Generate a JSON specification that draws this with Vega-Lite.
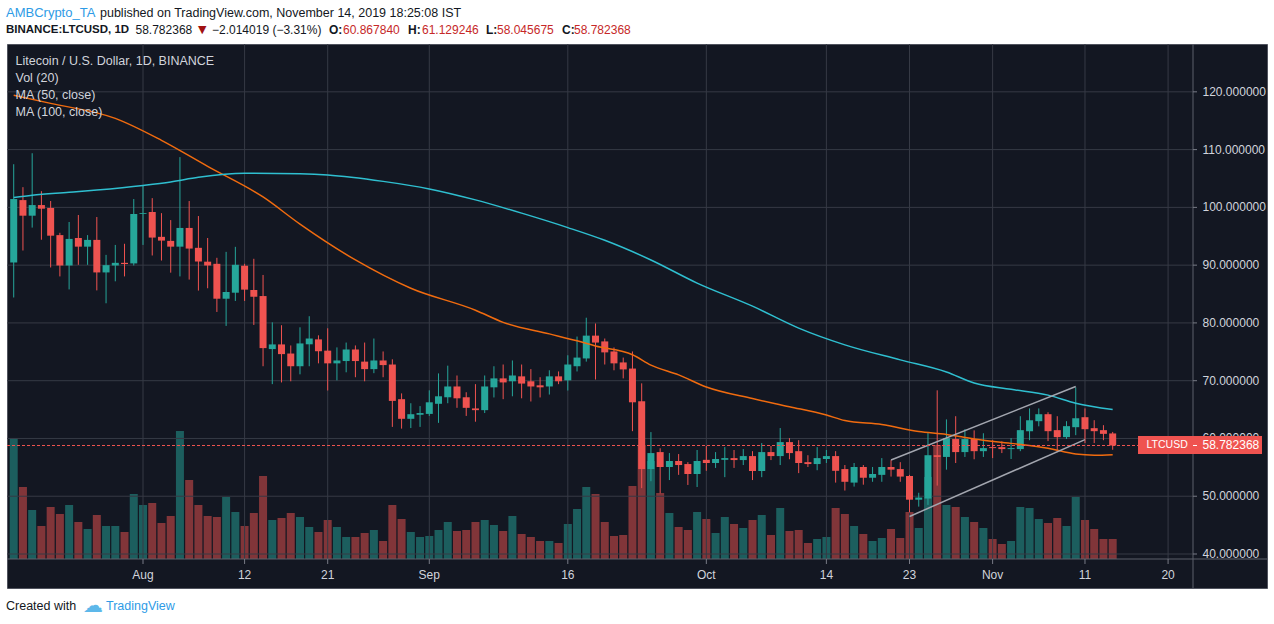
{
"$schema": "https://vega.github.io/schema/vega-lite/v6.json",
"width": 1260, "height": 544,
"autosize": {"type": "none"},
"padding": {"left": 7, "top": 44, "right": 7, "bottom": 36},
"background": "#ffffff",
"config": {"view": {"fill": "#131722", "stroke": "#50535e", "strokeWidth": 1}},
"datasets": {
"one": [{"k": 1}],
"ticks": [{"d":"2019-08-01","label":"Aug"},{"d":"2019-08-12","label":"12"},{"d":"2019-08-21","label":"21"},{"d":"2019-09-01","label":"Sep"},{"d":"2019-09-16","label":"16"},{"d":"2019-10-01","label":"Oct"},{"d":"2019-10-14","label":"14"},{"d":"2019-10-23","label":"23"},{"d":"2019-11-01","label":"Nov"},{"d":"2019-11-11","label":"11"},{"d":"2019-11-20","label":"20"}],
"levels": [{"p":40},{"p":50},{"p":60},{"p":70},{"p":80},{"p":90},{"p":100},{"p":110},{"p":120}],
"candles": [
{"date":"2019-07-18","open":90.46,"high":107.47,"low":84.4,"close":101.44,"volume":1210000},
{"date":"2019-07-19","open":101.26,"high":103.5,"low":92.53,"close":98.56,"volume":720000},
{"date":"2019-07-20","open":98.56,"high":109.37,"low":96.5,"close":100.4,"volume":490000},
{"date":"2019-07-21","open":100.4,"high":102.8,"low":94.4,"close":99.77,"volume":330000},
{"date":"2019-07-22","open":99.9,"high":101.1,"low":89.6,"close":95.1,"volume":520000},
{"date":"2019-07-23","open":95.2,"high":95.6,"low":88.05,"close":89.94,"volume":450000},
{"date":"2019-07-24","open":89.94,"high":97.47,"low":85.8,"close":94.54,"volume":540000},
{"date":"2019-07-25","open":94.7,"high":98.68,"low":90.06,"close":93.2,"volume":370000},
{"date":"2019-07-26","open":93.2,"high":95.2,"low":90.06,"close":94.37,"volume":300000},
{"date":"2019-07-27","open":94.37,"high":98.33,"low":85.63,"close":88.74,"volume":440000},
{"date":"2019-07-28","open":88.74,"high":91.78,"low":83.4,"close":90.0,"volume":330000},
{"date":"2019-07-29","open":89.94,"high":93.5,"low":87.2,"close":90.4,"volume":330000},
{"date":"2019-07-30","open":90.4,"high":93.7,"low":88.05,"close":90.2,"volume":270000},
{"date":"2019-07-31","open":90.3,"high":101.44,"low":89.94,"close":98.85,"volume":650000},
{"date":"2019-08-01","open":98.85,"high":103.7,"low":93.5,"close":99.0,"volume":540000},
{"date":"2019-08-02","open":99.2,"high":101.6,"low":91.67,"close":94.77,"volume":560000},
{"date":"2019-08-03","open":94.9,"high":99.0,"low":90.8,"close":94.25,"volume":360000},
{"date":"2019-08-04","open":94.2,"high":97.8,"low":88.7,"close":93.2,"volume":430000},
{"date":"2019-08-05","open":93.2,"high":108.7,"low":88.05,"close":96.44,"volume":1280000},
{"date":"2019-08-06","open":96.44,"high":101.1,"low":87.5,"close":92.87,"volume":790000},
{"date":"2019-08-07","open":93.0,"high":98.5,"low":85.6,"close":90.63,"volume":540000},
{"date":"2019-08-08","open":90.6,"high":94.7,"low":86.0,"close":89.94,"volume":430000},
{"date":"2019-08-09","open":90.23,"high":91.27,"low":81.9,"close":84.19,"volume":420000},
{"date":"2019-08-10","open":84.19,"high":92.3,"low":79.48,"close":85.35,"volume":620000},
{"date":"2019-08-11","open":85.23,"high":93.17,"low":83.8,"close":90.06,"volume":470000},
{"date":"2019-08-12","open":89.9,"high":90.23,"low":83.8,"close":85.76,"volume":330000},
{"date":"2019-08-13","open":85.7,"high":91.1,"low":79.65,"close":84.53,"volume":460000},
{"date":"2019-08-14","open":84.65,"high":88.3,"low":72.5,"close":75.64,"volume":830000},
{"date":"2019-08-15","open":75.47,"high":80.1,"low":69.4,"close":76.28,"volume":390000},
{"date":"2019-08-16","open":76.28,"high":79.6,"low":69.7,"close":74.6,"volume":410000},
{"date":"2019-08-17","open":74.7,"high":76.1,"low":69.9,"close":72.5,"volume":460000},
{"date":"2019-08-18","open":72.5,"high":79.24,"low":71.1,"close":76.45,"volume":420000},
{"date":"2019-08-19","open":76.3,"high":81.16,"low":72.5,"close":77.3,"volume":320000},
{"date":"2019-08-20","open":77.15,"high":77.85,"low":73.0,"close":75.1,"volume":270000},
{"date":"2019-08-21","open":75.2,"high":79.07,"low":68.3,"close":73.0,"volume":390000},
{"date":"2019-08-22","open":73.0,"high":75.76,"low":70.06,"close":73.5,"volume":320000},
{"date":"2019-08-23","open":73.4,"high":76.6,"low":71.45,"close":75.4,"volume":220000},
{"date":"2019-08-24","open":75.4,"high":76.1,"low":70.6,"close":73.4,"volume":220000},
{"date":"2019-08-25","open":73.3,"high":76.6,"low":69.9,"close":72.0,"volume":260000},
{"date":"2019-08-26","open":72.0,"high":77.3,"low":71.3,"close":73.5,"volume":290000},
{"date":"2019-08-27","open":73.5,"high":75.06,"low":70.6,"close":72.7,"volume":180000},
{"date":"2019-08-28","open":72.8,"high":73.7,"low":62.0,"close":66.5,"volume":540000},
{"date":"2019-08-29","open":66.8,"high":67.8,"low":61.7,"close":63.4,"volume":400000},
{"date":"2019-08-30","open":63.4,"high":66.1,"low":61.8,"close":64.2,"volume":270000},
{"date":"2019-08-31","open":64.1,"high":65.6,"low":62.0,"close":64.4,"volume":220000},
{"date":"2019-09-01","open":64.25,"high":68.33,"low":63.9,"close":66.26,"volume":230000},
{"date":"2019-09-02","open":66.0,"high":71.26,"low":62.7,"close":67.3,"volume":290000},
{"date":"2019-09-03","open":67.13,"high":72.6,"low":66.1,"close":69.0,"volume":370000},
{"date":"2019-09-04","open":69.0,"high":70.9,"low":65.3,"close":66.95,"volume":280000},
{"date":"2019-09-05","open":67.13,"high":68.0,"low":63.9,"close":65.3,"volume":290000},
{"date":"2019-09-06","open":65.2,"high":69.4,"low":62.9,"close":64.9,"volume":370000},
{"date":"2019-09-07","open":64.9,"high":70.9,"low":64.4,"close":69.0,"volume":390000},
{"date":"2019-09-08","open":68.85,"high":72.5,"low":67.1,"close":70.4,"volume":340000},
{"date":"2019-09-09","open":70.4,"high":72.8,"low":66.8,"close":69.7,"volume":280000},
{"date":"2019-09-10","open":69.9,"high":73.5,"low":67.3,"close":70.9,"volume":430000},
{"date":"2019-09-11","open":70.75,"high":72.8,"low":66.95,"close":69.5,"volume":250000},
{"date":"2019-09-12","open":69.9,"high":72.0,"low":66.4,"close":69.0,"volume":220000},
{"date":"2019-09-13","open":69.2,"high":70.6,"low":67.1,"close":68.85,"volume":180000},
{"date":"2019-09-14","open":69.0,"high":71.8,"low":67.6,"close":70.75,"volume":180000},
{"date":"2019-09-15","open":70.75,"high":71.6,"low":69.4,"close":69.9,"volume":160000},
{"date":"2019-09-16","open":70.06,"high":74.4,"low":68.3,"close":72.8,"volume":350000},
{"date":"2019-09-17","open":72.5,"high":77.64,"low":71.6,"close":74.0,"volume":500000},
{"date":"2019-09-18","open":73.85,"high":80.9,"low":73.3,"close":77.8,"volume":720000},
{"date":"2019-09-19","open":77.8,"high":79.9,"low":70.2,"close":76.6,"volume":650000},
{"date":"2019-09-20","open":76.8,"high":77.3,"low":72.8,"close":74.9,"volume":370000},
{"date":"2019-09-21","open":75.06,"high":75.75,"low":71.8,"close":73.0,"volume":230000},
{"date":"2019-09-22","open":73.16,"high":74.0,"low":70.4,"close":71.95,"volume":240000},
{"date":"2019-09-23","open":72.1,"high":75.06,"low":61.26,"close":66.26,"volume":730000},
{"date":"2019-09-24","open":66.44,"high":69.54,"low":51.4,"close":54.7,"volume":1140000},
{"date":"2019-09-25","open":54.7,"high":61.1,"low":52.6,"close":57.47,"volume":980000},
{"date":"2019-09-26","open":57.64,"high":58.3,"low":50.5,"close":55.06,"volume":660000},
{"date":"2019-09-27","open":55.06,"high":57.47,"low":52.8,"close":56.1,"volume":460000},
{"date":"2019-09-28","open":56.1,"high":57.3,"low":53.7,"close":55.4,"volume":320000},
{"date":"2019-09-29","open":55.57,"high":55.9,"low":51.95,"close":53.85,"volume":290000},
{"date":"2019-09-30","open":53.85,"high":58.0,"low":51.6,"close":56.1,"volume":470000},
{"date":"2019-10-01","open":56.3,"high":58.7,"low":54.4,"close":55.75,"volume":400000},
{"date":"2019-10-02","open":55.75,"high":57.64,"low":54.9,"close":56.44,"volume":260000},
{"date":"2019-10-03","open":56.3,"high":58.5,"low":53.3,"close":56.6,"volume":420000},
{"date":"2019-10-04","open":56.6,"high":58.0,"low":54.9,"close":56.26,"volume":350000},
{"date":"2019-10-05","open":56.26,"high":58.16,"low":55.4,"close":56.95,"volume":310000},
{"date":"2019-10-06","open":56.95,"high":57.8,"low":52.8,"close":54.37,"volume":390000},
{"date":"2019-10-07","open":54.37,"high":59.2,"low":53.3,"close":57.64,"volume":440000},
{"date":"2019-10-08","open":57.64,"high":58.7,"low":56.26,"close":56.95,"volume":240000},
{"date":"2019-10-09","open":56.95,"high":61.8,"low":55.4,"close":59.37,"volume":510000},
{"date":"2019-10-10","open":59.37,"high":60.06,"low":56.4,"close":57.47,"volume":280000},
{"date":"2019-10-11","open":57.8,"high":59.7,"low":54.0,"close":55.75,"volume":290000},
{"date":"2019-10-12","open":55.9,"high":57.1,"low":55.06,"close":55.57,"volume":160000},
{"date":"2019-10-13","open":55.57,"high":58.5,"low":54.5,"close":56.6,"volume":200000},
{"date":"2019-10-14","open":56.44,"high":58.0,"low":55.75,"close":56.95,"volume":220000},
{"date":"2019-10-15","open":56.95,"high":57.8,"low":52.36,"close":54.4,"volume":510000},
{"date":"2019-10-16","open":54.7,"high":55.4,"low":50.98,"close":52.5,"volume":450000},
{"date":"2019-10-17","open":52.36,"high":55.75,"low":51.67,"close":55.06,"volume":330000},
{"date":"2019-10-18","open":55.06,"high":55.4,"low":52.0,"close":53.2,"volume":250000},
{"date":"2019-10-19","open":53.2,"high":55.06,"low":52.5,"close":53.85,"volume":180000},
{"date":"2019-10-20","open":53.7,"high":56.6,"low":52.5,"close":55.06,"volume":210000},
{"date":"2019-10-21","open":55.06,"high":56.26,"low":53.4,"close":54.6,"volume":300000},
{"date":"2019-10-22","open":54.7,"high":55.9,"low":52.5,"close":53.4,"volume":210000},
{"date":"2019-10-23","open":53.5,"high":53.7,"low":47.2,"close":49.4,"volume":470000},
{"date":"2019-10-24","open":49.4,"high":50.6,"low":48.2,"close":49.77,"volume":310000},
{"date":"2019-10-25","open":49.6,"high":61.1,"low":48.5,"close":57.1,"volume":820000},
{"date":"2019-10-26","open":57.1,"high":68.33,"low":51.84,"close":56.8,"volume":1140000},
{"date":"2019-10-27","open":56.8,"high":63.3,"low":54.6,"close":60.06,"volume":540000},
{"date":"2019-10-28","open":59.9,"high":63.85,"low":55.75,"close":57.64,"volume":520000},
{"date":"2019-10-29","open":57.64,"high":61.6,"low":56.8,"close":59.9,"volume":420000},
{"date":"2019-10-30","open":59.9,"high":61.4,"low":56.4,"close":57.8,"volume":370000},
{"date":"2019-10-31","open":57.8,"high":60.9,"low":56.8,"close":58.33,"volume":310000},
{"date":"2019-11-01","open":58.5,"high":59.7,"low":56.6,"close":58.33,"volume":200000},
{"date":"2019-11-02","open":58.5,"high":59.5,"low":57.47,"close":58.16,"volume":150000},
{"date":"2019-11-03","open":58.16,"high":60.06,"low":56.44,"close":58.33,"volume":180000},
{"date":"2019-11-04","open":58.16,"high":63.85,"low":57.8,"close":61.44,"volume":520000},
{"date":"2019-11-05","open":61.26,"high":65.2,"low":59.7,"close":63.16,"volume":510000},
{"date":"2019-11-06","open":62.99,"high":65.2,"low":62.1,"close":64.2,"volume":400000},
{"date":"2019-11-07","open":64.2,"high":64.54,"low":59.54,"close":61.26,"volume":360000},
{"date":"2019-11-08","open":61.44,"high":63.85,"low":57.64,"close":60.23,"volume":410000},
{"date":"2019-11-09","open":60.23,"high":62.99,"low":59.9,"close":62.13,"volume":330000},
{"date":"2019-11-10","open":61.95,"high":68.85,"low":60.57,"close":63.5,"volume":620000},
{"date":"2019-11-11","open":63.68,"high":65.2,"low":59.2,"close":61.6,"volume":390000},
{"date":"2019-11-12","open":61.78,"high":63.16,"low":59.2,"close":61.26,"volume":300000},
{"date":"2019-11-13","open":61.44,"high":62.3,"low":59.7,"close":60.796387,"volume":200000},
{"date":"2019-11-14","open":60.86784,"high":61.129246,"low":58.045675,"close":58.782368,"volume":200000}
],
"ma50": [
{"date":"2019-07-18","ma":119.4},{"date":"2019-07-22","ma":118.0},{"date":"2019-07-29","ma":115.4},
{"date":"2019-08-03","ma":111.6},{"date":"2019-08-08","ma":107.1},{"date":"2019-08-14","ma":101.8},
{"date":"2019-08-18","ma":97.1},{"date":"2019-08-24","ma":90.9},{"date":"2019-08-30","ma":86.0},
{"date":"2019-09-06","ma":82.2},{"date":"2019-09-09","ma":80.1},{"date":"2019-09-14","ma":78.1},
{"date":"2019-09-17","ma":76.9},{"date":"2019-09-19","ma":76.0},{"date":"2019-09-23","ma":74.5},
{"date":"2019-09-25","ma":72.7},{"date":"2019-09-28","ma":71.0},{"date":"2019-10-01","ma":68.9},
{"date":"2019-10-06","ma":66.9},{"date":"2019-10-10","ma":65.5},{"date":"2019-10-14","ma":64.05},
{"date":"2019-10-16","ma":63.1},{"date":"2019-10-20","ma":62.4},{"date":"2019-10-24","ma":61.2},
{"date":"2019-10-27","ma":60.7},{"date":"2019-10-30","ma":59.9},{"date":"2019-11-03","ma":59.15},
{"date":"2019-11-07","ma":58.3},{"date":"2019-11-10","ma":57.3},{"date":"2019-11-12","ma":57.1},
{"date":"2019-11-14","ma":57.2}
],
"ma100": [
{"date":"2019-07-18","ma":101.7},{"date":"2019-07-20","ma":102.1},{"date":"2019-07-24","ma":102.6},
{"date":"2019-07-27","ma":103.0},{"date":"2019-08-01","ma":103.8},{"date":"2019-08-04","ma":104.4},
{"date":"2019-08-07","ma":105.2},{"date":"2019-08-12","ma":105.9},{"date":"2019-08-18","ma":105.8},
{"date":"2019-08-21","ma":105.6},{"date":"2019-08-27","ma":104.5},{"date":"2019-09-01","ma":103.2},
{"date":"2019-09-06","ma":101.3},{"date":"2019-09-11","ma":99.0},{"date":"2019-09-16","ma":96.5},
{"date":"2019-09-20","ma":94.3},{"date":"2019-09-25","ma":90.9},{"date":"2019-09-30","ma":86.9},
{"date":"2019-10-06","ma":82.9},{"date":"2019-10-11","ma":79.1},{"date":"2019-10-16","ma":76.2},
{"date":"2019-10-22","ma":73.6},{"date":"2019-10-27","ma":71.5},{"date":"2019-10-30","ma":69.6},
{"date":"2019-11-03","ma":68.5},{"date":"2019-11-07","ma":67.5},{"date":"2019-11-10","ma":66.1},
{"date":"2019-11-14","ma":65.0}
]
},
"resolve": {"scale": {"y": "independent"}},
"layer": [
{
"data": {"name": "candles"},
"mark": {"type": "bar", "width": 8},
"encoding": {
"x": {"field": "date", "type": "temporal", "scale": {"type": "utc", "domain": [1563345223168, 1575133420288], "nice": false, "padding": 0}, "axis": null},
"y": {"field": "volume", "type": "quantitative", "scale": {"domain": [-290000, 5150000], "nice": false, "zero": false}, "axis": null},
"y2": {"datum": 0},
"color": {"condition": {"test": "datum.close >= datum.open", "value": "rgba(38,166,154,0.5)"}, "value": "rgba(239,83,80,0.5)"}
}
},
{
"layer": [
{
"data": {"name": "ticks"},
"mark": {"type": "rule", "color": "#363a45", "strokeWidth": 1},
"encoding": {
"x": {"field": "d", "type": "temporal", "axis": null},
"y": {"datum": 39.134, "type": "quantitative", "axis": null},
"y2": {"datum": 128.28}
}
},
{
"data": {"name": "levels"},
"mark": {"type": "rule", "color": "#363a45", "strokeWidth": 1},
"encoding": {
"y": {"field": "p", "type": "quantitative", "scale": {"domain": [34.115, 128.28], "nice": false, "zero": false, "padding": 0}, "axis": null},
"x": {"datum": 1563345223168, "type": "temporal", "axis": null},
"x2": {"datum": 1574441097600}
}
},
{
"data": {"name": "one"},
"mark": {"type": "rule", "color": "#5d606b", "strokeWidth": 1},
"encoding": {"y": {"datum": 39.134, "type": "quantitative", "axis": null}}
},
{
"data": {"name": "one"},
"mark": {"type": "rule", "color": "#5d606b", "strokeWidth": 1},
"encoding": {"x": {"datum": 1574441097600, "type": "temporal", "axis": null}}
},
{
"data": {"name": "ticks"},
"mark": {"type": "rule", "color": "#787b86", "strokeWidth": 1},
"encoding": {
"x": {"field": "d", "type": "temporal", "axis": null},
"y": {"datum": 39.134, "type": "quantitative", "axis": null},
"y2": {"datum": 38.27}
}
},
{
"data": {"name": "ticks"},
"mark": {"type": "text", "align": "center", "baseline": "middle", "font": "Liberation Sans", "fontSize": 12, "color": "#d1d4dc"},
"encoding": {
"x": {"field": "d", "type": "temporal", "axis": null},
"y": {"datum": 36.365, "type": "quantitative", "axis": null},
"text": {"field": "label"}
}
},
{
"data": {"name": "levels"},
"mark": {"type": "rule", "color": "#787b86", "strokeWidth": 1},
"encoding": {
"y": {"field": "p", "type": "quantitative", "axis": null},
"x": {"datum": 1574441097600, "type": "temporal", "axis": null},
"x2": {"datum": 1574478520448}
}
},
{
"data": {"name": "levels"},
"mark": {"type": "text", "align": "left", "baseline": "middle", "font": "Liberation Sans", "fontSize": 12, "color": "#d1d4dc"},
"encoding": {
"y": {"field": "p", "type": "quantitative", "axis": null},
"x": {"datum": 1574529976864, "type": "temporal", "axis": null},
"text": {"field": "p", "type": "quantitative", "format": ".6f"}
}
},
{
"data": {"name": "candles"},
"mark": {"type": "rule", "strokeWidth": 1},
"encoding": {
"x": {"field": "date", "type": "temporal", "axis": null},
"y": {"field": "low", "type": "quantitative", "axis": null},
"y2": {"field": "high"},
"color": {"condition": {"test": "datum.close >= datum.open", "value": "#26a69a"}, "value": "#ef5350"}
}
},
{
"data": {"name": "candles"},
"mark": {"type": "bar", "width": 7},
"encoding": {
"x": {"field": "date", "type": "temporal", "axis": null},
"y": {"field": "open", "type": "quantitative", "axis": null},
"y2": {"field": "close"},
"color": {"condition": {"test": "datum.close >= datum.open", "value": "#26a69a"}, "value": "#ef5350"}
}
},
{
"data": {"name": "ma50"},
"mark": {"type": "line", "color": "#f06b0f", "strokeWidth": 1.5, "interpolate": "monotone"},
"encoding": {
"x": {"field": "date", "type": "temporal", "axis": null},
"y": {"field": "ma", "type": "quantitative", "axis": null}
}
},
{
"data": {"name": "ma100"},
"mark": {"type": "line", "color": "#2fbfd0", "strokeWidth": 1.5, "interpolate": "monotone"},
"encoding": {
"x": {"field": "date", "type": "temporal", "axis": null},
"y": {"field": "ma", "type": "quantitative", "axis": null}
}
},
{
"data": {"name": "one"},
"mark": {"type": "rule", "color": "#a3a6af", "strokeWidth": 1.5},
"encoding": {
"x": {"datum": 1571616000000, "type": "temporal", "axis": null},
"x2": {"datum": 1573344000000},
"y": {"datum": 56.27, "type": "quantitative", "axis": null},
"y2": {"datum": 68.99}
}
},
{
"data": {"name": "one"},
"mark": {"type": "rule", "color": "#a3a6af", "strokeWidth": 1.5},
"encoding": {
"x": {"datum": 1571788800000, "type": "temporal", "axis": null},
"x2": {"datum": 1573430400000},
"y": {"datum": 46.5, "type": "quantitative", "axis": null},
"y2": {"datum": 59.8}
}
},
{
"data": {"name": "one"},
"mark": {"type": "rule", "color": "#ef5350", "strokeWidth": 1, "strokeDash": [3, 2]},
"encoding": {
"x": {"datum": 1563345223168, "type": "temporal", "axis": null},
"x2": {"datum": 1573926533440},
"y": {"datum": 58.782368, "type": "quantitative", "axis": null}
}
},
{
"data": {"name": "one"},
"mark": {"type": "rect", "color": "#ef5350"},
"encoding": {
"x": {"datum": 1573926533440, "type": "temporal", "axis": null},
"x2": {"datum": 1575086641728},
"y": {"datum": 57.3, "type": "quantitative", "axis": null},
"y2": {"datum": 60.43}
}
},
{
"data": {"name": "one"},
"mark": {"type": "rule", "color": "#ffffff", "strokeWidth": 1},
"encoding": {
"y": {"datum": 58.782368, "type": "quantitative", "axis": null},
"x": {"datum": 1574441097600, "type": "temporal", "axis": null},
"x2": {"datum": 1574478520448}
}
},
{
"data": {"name": "one"},
"mark": {"type": "text", "text": "LTCUSD", "align": "left", "baseline": "middle", "font": "Liberation Sans", "fontSize": 10.5, "color": "#ffffff"},
"encoding": {
"x": {"datum": 1574006056992, "type": "temporal", "axis": null},
"y": {"datum": 58.782368, "type": "quantitative", "axis": null}
}
},
{
"data": {"name": "one"},
"mark": {"type": "text", "text": "58.782368", "align": "left", "baseline": "middle", "font": "Liberation Sans", "fontSize": 12, "color": "#ffffff"},
"encoding": {
"x": {"datum": 1574529976864, "type": "temporal", "axis": null},
"y": {"datum": 58.782368, "type": "quantitative", "axis": null}
}
},
{
"data": {"name": "one"},
"mark": {"type": "text", "text": "AMBCrypto_TA", "align": "left", "baseline": "middle", "font": "Liberation Sans", "fontSize": 13, "color": "#2e9be6"},
"encoding": {"x": {"datum": 1563335867456, "type": "temporal", "axis": null}, "y": {"datum": 133.65, "type": "quantitative", "axis": null}}
},
{
"data": {"name": "one"},
"mark": {"type": "text", "text": "published on TradingView.com, November 14, 2019 18:25:08 IST", "align": "left", "baseline": "middle", "font": "Liberation Sans", "fontSize": 12.5, "color": "#131722"},
"encoding": {"x": {"datum": 1564215304384, "type": "temporal", "axis": null}, "y": {"datum": 133.65, "type": "quantitative", "axis": null}}
},
{
"data": {"name": "one"},
"mark": {"type": "text", "text": "BINANCE:LTCUSD, 1D", "align": "left", "baseline": "middle", "font": "Liberation Sans", "fontSize": 11.5, "fontWeight": "bold", "color": "#131722"},
"encoding": {"x": {"datum": 1563335867456, "type": "temporal", "axis": null}, "y": {"datum": 130.7, "type": "quantitative", "axis": null}}
},
{
"data": {"name": "one"},
"mark": {"type": "text", "text": "58.782368", "align": "left", "baseline": "middle", "font": "Liberation Sans", "fontSize": 12, "color": "#131722"},
"encoding": {"x": {"datum": 1564547432160, "type": "temporal", "axis": null}, "y": {"datum": 130.7, "type": "quantitative", "axis": null}}
},
{
"data": {"name": "one"},
"mark": {"type": "text", "text": "▼", "align": "left", "baseline": "middle", "font": "DejaVu Sans", "fontSize": 11, "color": "#a11212"},
"encoding": {"x": {"datum": 1565132164160, "type": "temporal", "axis": null}, "y": {"datum": 130.7, "type": "quantitative", "axis": null}}
},
{
"data": {"name": "one"},
"mark": {"type": "text", "text": "−2.014019 (−3.31%)", "align": "left", "baseline": "middle", "font": "Liberation Sans", "fontSize": 12, "color": "#131722"},
"encoding": {"x": {"datum": 1565263144128, "type": "temporal", "axis": null}, "y": {"datum": 130.7, "type": "quantitative", "axis": null}}
},
{
"data": {"name": "one"},
"mark": {"type": "text", "text": "O:", "align": "left", "baseline": "middle", "font": "Liberation Sans", "fontSize": 12, "fontWeight": "bold", "color": "#131722"},
"encoding": {"x": {"datum": 1566357762432, "type": "temporal", "axis": null}, "y": {"datum": 130.7, "type": "quantitative", "axis": null}}
},
{
"data": {"name": "one"},
"mark": {"type": "text", "text": "60.867840", "align": "left", "baseline": "middle", "font": "Liberation Sans", "fontSize": 12, "color": "#c62828"},
"encoding": {"x": {"datum": 1566488742400, "type": "temporal", "axis": null}, "y": {"datum": 130.7, "type": "quantitative", "axis": null}}
},
{
"data": {"name": "one"},
"mark": {"type": "text", "text": "H:", "align": "left", "baseline": "middle", "font": "Liberation Sans", "fontSize": 12, "fontWeight": "bold", "color": "#131722"},
"encoding": {"x": {"datum": 1567096863680, "type": "temporal", "axis": null}, "y": {"datum": 130.7, "type": "quantitative", "axis": null}}
},
{
"data": {"name": "one"},
"mark": {"type": "text", "text": "61.129246", "align": "left", "baseline": "middle", "font": "Liberation Sans", "fontSize": 12, "color": "#c62828"},
"encoding": {"x": {"datum": 1567227843648, "type": "temporal", "axis": null}, "y": {"datum": 130.7, "type": "quantitative", "axis": null}}
},
{
"data": {"name": "one"},
"mark": {"type": "text", "text": "L:", "align": "left", "baseline": "middle", "font": "Liberation Sans", "fontSize": 12, "fontWeight": "bold", "color": "#131722"},
"encoding": {"x": {"datum": 1567826609216, "type": "temporal", "axis": null}, "y": {"datum": 130.7, "type": "quantitative", "axis": null}}
},
{
"data": {"name": "one"},
"mark": {"type": "text", "text": "58.045675", "align": "left", "baseline": "middle", "font": "Liberation Sans", "fontSize": 12, "color": "#c62828"},
"encoding": {"x": {"datum": 1567929522048, "type": "temporal", "axis": null}, "y": {"datum": 130.7, "type": "quantitative", "axis": null}}
},
{
"data": {"name": "one"},
"mark": {"type": "text", "text": "C:", "align": "left", "baseline": "middle", "font": "Liberation Sans", "fontSize": 12, "fontWeight": "bold", "color": "#131722"},
"encoding": {"x": {"datum": 1568537643328, "type": "temporal", "axis": null}, "y": {"datum": 130.7, "type": "quantitative", "axis": null}}
},
{
"data": {"name": "one"},
"mark": {"type": "text", "text": "58.782368", "align": "left", "baseline": "middle", "font": "Liberation Sans", "fontSize": 12, "color": "#c62828"},
"encoding": {"x": {"datum": 1568649911872, "type": "temporal", "axis": null}, "y": {"datum": 130.7, "type": "quantitative", "axis": null}}
},
{
"data": {"name": "one"},
"mark": {"type": "text", "text": "Litecoin / U.S. Dollar, 1D, BINANCE", "align": "left", "baseline": "middle", "font": "Liberation Sans", "fontSize": 12.5, "color": "#d1d4dc"},
"encoding": {"x": {"datum": 1563424746720, "type": "temporal", "axis": null}, "y": {"datum": 125.34, "type": "quantitative", "axis": null}}
},
{
"data": {"name": "one"},
"mark": {"type": "text", "text": "Vol (20)", "align": "left", "baseline": "middle", "font": "Liberation Sans", "fontSize": 12.5, "color": "#d1d4dc"},
"encoding": {"x": {"datum": 1563424746720, "type": "temporal", "axis": null}, "y": {"datum": 122.4, "type": "quantitative", "axis": null}}
},
{
"data": {"name": "one"},
"mark": {"type": "text", "text": "MA (50, close)", "align": "left", "baseline": "middle", "font": "Liberation Sans", "fontSize": 12.5, "color": "#d1d4dc"},
"encoding": {"x": {"datum": 1563424746720, "type": "temporal", "axis": null}, "y": {"datum": 119.45, "type": "quantitative", "axis": null}}
},
{
"data": {"name": "one"},
"mark": {"type": "text", "text": "MA (100, close)", "align": "left", "baseline": "middle", "font": "Liberation Sans", "fontSize": 12.5, "color": "#d1d4dc"},
"encoding": {"x": {"datum": 1563424746720, "type": "temporal", "axis": null}, "y": {"datum": 116.51, "type": "quantitative", "axis": null}}
},
{
"data": {"name": "one"},
"mark": {"type": "text", "text": "Created with", "align": "left", "baseline": "middle", "font": "Liberation Sans", "fontSize": 12.5, "color": "#131722"},
"encoding": {"x": {"datum": 1563335867456, "type": "temporal", "axis": null}, "y": {"datum": 31.0, "type": "quantitative", "axis": null}}
},
{
"data": {"name": "one"},
"mark": {"type": "text", "text": "☁", "align": "left", "baseline": "middle", "font": "DejaVu Sans", "fontSize": 20, "color": "#5db8ea"},
"encoding": {"x": {"datum": 1564056257280, "type": "temporal", "axis": null}, "y": {"datum": 31.0, "type": "quantitative", "axis": null}}
},
{
"data": {"name": "one"},
"mark": {"type": "text", "text": "TradingView", "align": "left", "baseline": "middle", "font": "Liberation Sans", "fontSize": 12.5, "color": "#2e9be6"},
"encoding": {"x": {"datum": 1564271438656, "type": "temporal", "axis": null}, "y": {"datum": 31.0, "type": "quantitative", "axis": null}}
}
]
}
]
}
